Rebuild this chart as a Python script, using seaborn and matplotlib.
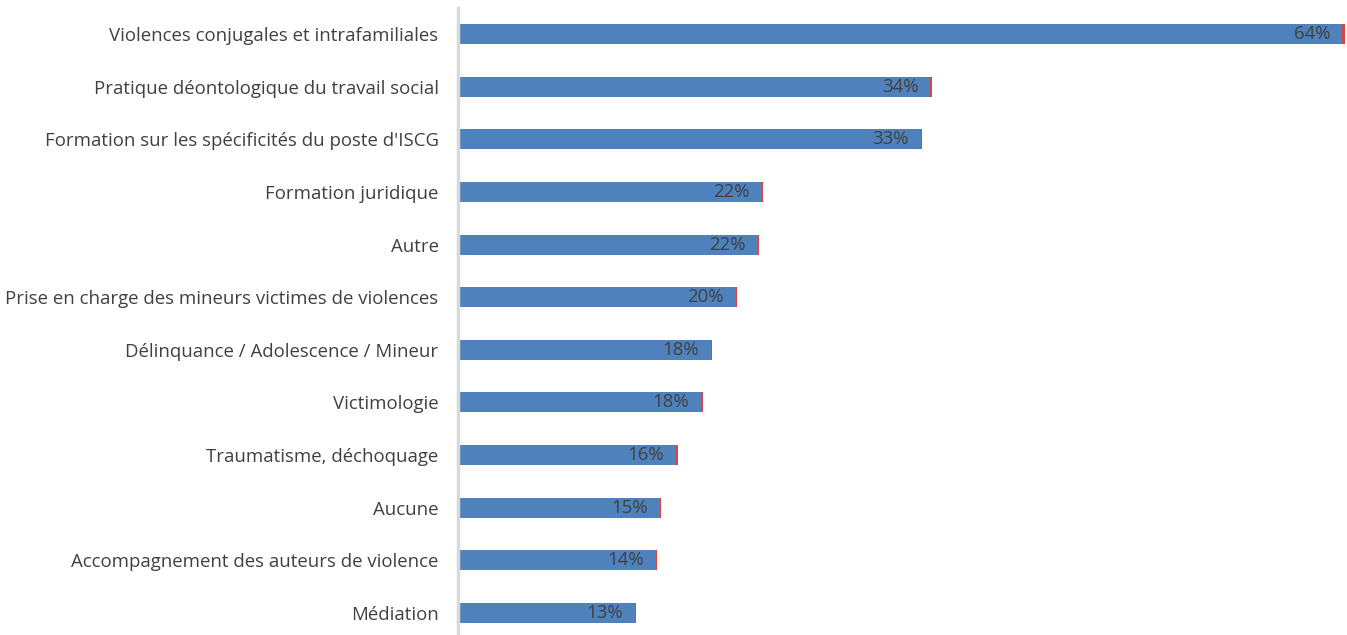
import matplotlib
matplotlib.use("Agg")
import matplotlib.pyplot as plt
import seaborn as sns
import pandas as pd

categories = [
    "Violences conjugales et intrafamiliales",
    "Pratique déontologique du travail social",
    "Formation sur les spécificités du poste d'ISCG",
    "Formation juridique",
    "Autre",
    "Prise en charge des mineurs victimes de violences",
    "Délinquance / Adolescence / Mineur",
    "Victimologie",
    "Traumatisme, déchoquage",
    "Aucune",
    "Accompagnement des auteurs de violence",
    "Médiation",
]
values = [64.0, 34.2, 33.5, 22.0, 21.7, 20.1, 18.3, 17.6, 15.8, 14.6, 14.3, 12.8]
extra = [0.22, 0.12, 0.12, 0.1, 0.1, 0.1, 0.1, 0.1, 0.1, 0.1, 0.1, 0.1]
labels = ["64%", "34%", "33%", "22%", "22%", "20%", "18%", "18%", "16%", "15%", "14%", "13%"]

df = pd.DataFrame({"cat": categories, "val": values, "extra": extra, "label": labels})
df["total"] = df["val"] + df["extra"]

sns.set_theme(style="white")
plt.rcParams["font.family"] = ["Open Sans", "DejaVu Sans"]

W, H = 1347, 635
fig = plt.figure(figsize=(W / 100, H / 100), dpi=100)
ax = fig.add_axes([458 / W, 0, 1 - 458 / W, 1 - 8 / H])

sns.barplot(data=df, x="total", y="cat", orient="h", color="#e0433c",
            saturation=1, width=0.38, ax=ax, order=categories, linewidth=0)
sns.barplot(data=df, x="val", y="cat", orient="h", color="#4f81bd",
            saturation=1, width=0.38, ax=ax, order=categories, linewidth=0)

ax.set_xlim(0, (W - 459) / 13.8)
ax.set_ylim(11 + 22 / 52.64, -26 / 52.64)
ax.set_xlabel("")
ax.set_ylabel("")
ax.set_xticks([])
for s in ["top", "right", "bottom"]:
    ax.spines[s].set_visible(False)
ax.spines["left"].set_color("#d9d9d9")
ax.spines["left"].set_linewidth(2.5)
ax.tick_params(axis="y", length=0, pad=14, labelsize=13.4, labelcolor="#404040")

for i, (v, lab) in enumerate(zip(values, labels)):
    ax.text(v - 2.2, i, lab, ha="center", va="center", fontsize=13.4, color="#404040")

fig.savefig("out.png", dpi=100)
